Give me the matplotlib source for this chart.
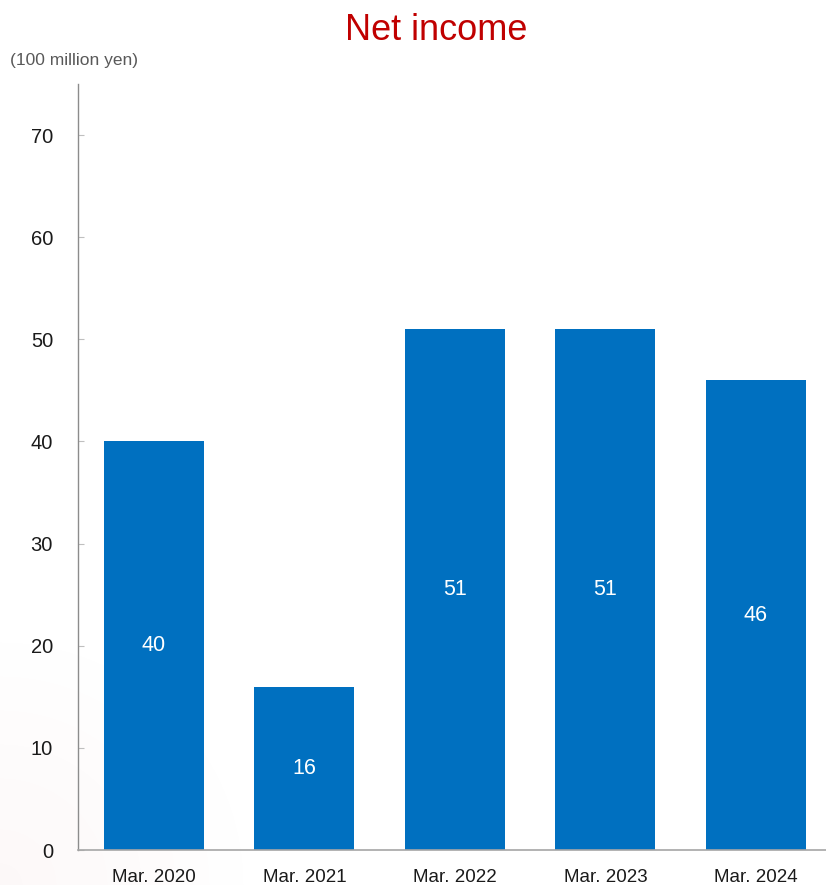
import matplotlib
matplotlib.use("Agg")
import matplotlib.pyplot as plt
import numpy as np

categories = ["Mar. 2020", "Mar. 2021", "Mar. 2022", "Mar. 2023", "Mar. 2024"]
values = [40, 16, 51, 51, 46]
yticks = [0, 10, 20, 30, 40, 50, 60, 70]

plt.rcParams["font.family"] = ["Liberation Sans", "DejaVu Sans"]

W, H = 826, 885
fig = plt.figure(figsize=(W / 100, H / 100), dpi=100)

# subtle pink corner gradient
bg = fig.add_axes([0, 0, 1, 1], zorder=-10)
yy, xx = np.mgrid[0:H, 0:W]
d = np.sqrt((xx / 260.0) ** 2 + ((H - yy) / 260.0) ** 2)
a = np.clip(1 - d, 0, 1) * 0.06
img = np.ones((H, W, 4))
img[..., 0] = 0.85
img[..., 1] = 0.55
img[..., 2] = 0.55
img[..., 3] = a
bg.imshow(img, extent=[0, 1, 0, 1], aspect="auto", origin="upper")
bg.axis("off")

left = 78 / W
right = 831 / W
bottom = (H - 850) / H
top = (H - 84) / H
ax = fig.add_axes([left, bottom, right - left, top - bottom])
ax.patch.set_alpha(0)

x = np.arange(len(categories))
ax.bar(x, values, width=0.665, color="#0070C0", zorder=2)
for xi, v in zip(x, values):
    ax.text(xi, v / 2, str(v), ha="center", va="center", color="white", fontsize=15.5)

ax.set_xlim(-0.505, 4.5)
ax.set_ylim(0, 75)
ax.set_yticks(yticks)
ax.set_xticks(x)
ax.set_xticklabels(categories)
ax.tick_params(axis="y", direction="in", length=4.5, color="#BFBFBF", pad=18,
               labelsize=14.5, labelcolor="#1a1a1a")
ax.tick_params(axis="x", length=0, pad=14, labelsize=13.5, labelcolor="#1a1a1a")
for s in ["top", "right"]:
    ax.spines[s].set_visible(False)
ax.spines["left"].set_color("#8c8c8c")
ax.spines["bottom"].set_color("#a6a6a6")
ax.spines["left"].set_linewidth(1.0)
ax.spines["bottom"].set_linewidth(1.2)

fig.text(436 / W, 1 - 30 / H, "Net income", ha="center", va="center",
         fontsize=26, color="#C00000")
fig.text(10 / W, 1 - 60 / H, "(100 million yen)", ha="left", va="center",
         fontsize=12.5, color="#595959")

fig.savefig("out.png", dpi=100)
